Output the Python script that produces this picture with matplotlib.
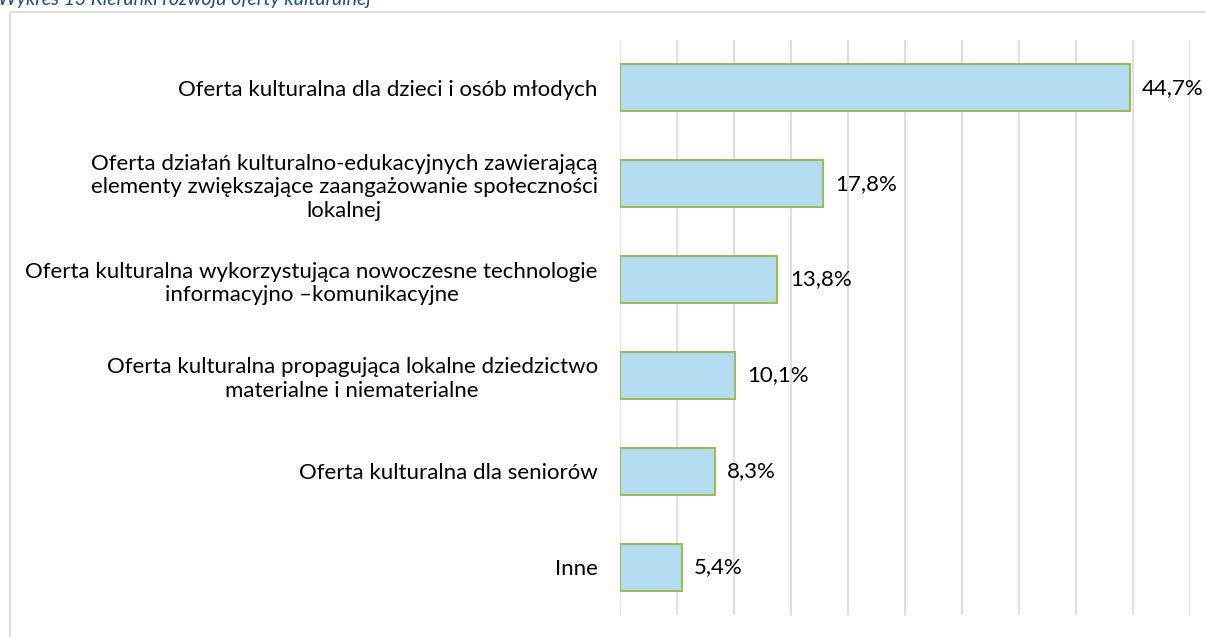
import matplotlib
matplotlib.use("Agg")
import matplotlib.pyplot as plt
from matplotlib.patches import Rectangle

plt.rcParams["font.family"] = ["Lato", "DejaVu Sans"]

categories = [
    "Oferta kulturalna dla dzieci i osób młodych",
    "Oferta działań kulturalno-edukacyjnych zawierającą\nelementy zwiększające zaangażowanie społeczności\nlokalnej",
    "Oferta kulturalna wykorzystująca nowoczesne technologie\ninformacyjno –komunikacyjne",
    "Oferta kulturalna propagująca lokalne dziedzictwo\nmaterialne i niematerialne",
    "Oferta kulturalna dla seniorów",
    "Inne",
]
values = [44.7, 17.8, 13.8, 10.1, 8.3, 5.4]
value_labels = ["44,7%", "17,8%", "13,8%", "10,1%", "8,3%", "5,4%"]

fig = plt.figure(figsize=(12.06, 6.37), dpi=100)

# light grey frame around the chart area
fig.patches.append(Rectangle((10 / 1206, -0.01), 1.0, 1 - 12 / 637 + 0.01,
                             transform=fig.transFigure, fill=False,
                             edgecolor="#d9d9d9", linewidth=1.2))

fig.text(-0.002, 1 - 5.5 / 637, "Wykres 13 Kierunki rozwoju oferty kulturalnej",
         fontsize=14, style="italic", color="#1f4e79", va="baseline", ha="left")

ax = fig.add_axes([620 / 1206, 1 - 615 / 637, 570 / 1206, 575 / 637])

y = list(range(len(categories)))
ax.barh(y, values, height=0.49, color="#b4ddf1", edgecolor="#9bbb59", linewidth=1.5, zorder=3)

for yi, v, lab in zip(y, values, value_labels):
    ax.text(v + 1.1, yi, lab, va="center", ha="left", fontsize=16, color="#000000", zorder=4)

ax.set_xlim(0, 50)
ax.set_ylim(len(categories) - 0.5, -0.5)
ax.set_xticks(range(0, 51, 5))
ax.xaxis.grid(True, color="#d9d9d9", linewidth=1.2, zorder=0)
ax.tick_params(axis="both", length=0, labelbottom=False)
ax.set_yticks(y)
ax.set_yticklabels(categories, fontsize=16, multialignment="center", linespacing=1.2)
ax.tick_params(axis="y", pad=16)
for spine in ax.spines.values():
    spine.set_visible(False)

fig.savefig("out.png", dpi=100)
